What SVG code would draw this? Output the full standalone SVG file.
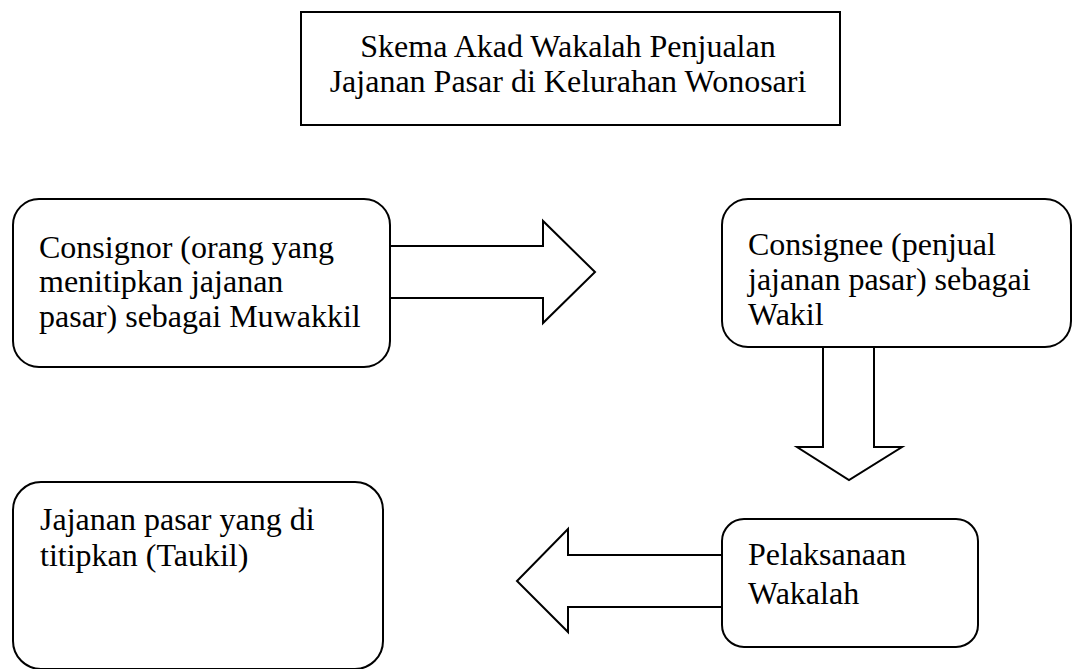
<svg xmlns="http://www.w3.org/2000/svg" width="1073" height="669" viewBox="0 0 1073 669">
<style>
.box{fill:#fff;stroke:#000;stroke-width:2}
.arr{fill:#fff;stroke:#000;stroke-width:2;stroke-linejoin:miter}
text{font-family:"Liberation Serif","Times New Roman",serif;font-size:32px;fill:#000}
</style>
<rect width="1073" height="669" fill="#fff"/>
<g id="title">
<rect class="box" x="301" y="12" width="539" height="113"/>
<text x="568" y="57" text-anchor="middle">Skema Akad Wakalah Penjualan</text>
<text x="568" y="92" text-anchor="middle">Jajanan Pasar di Kelurahan Wonosari</text>
</g>
<g id="connectors">
<polygon class="arr" points="390,246 543,246 543,221 595,272 543,323 543,298 390,298"/>
<polygon class="arr" points="823,347 823,447 797,447 849,480 902,447 874,447 874,347"/>
<polygon class="arr" points="722,555 568,555 568,529 517,581 568,632 568,607 722,607"/>
</g>
<g id="consignor">
<rect class="box" x="13" y="199" width="377" height="168" rx="26"/>
<text x="39" y="258">Consignor (orang yang</text>
<text x="39" y="292">menitipkan jajanan</text>
<text x="39" y="327">pasar) sebagai Muwakkil</text>
</g>
<g id="consignee">
<rect class="box" x="722" y="199" width="349" height="148" rx="26"/>
<text x="748" y="255">Consignee (penjual</text>
<text x="748" y="290">jajanan pasar) sebagai</text>
<text x="748" y="325">Wakil</text>
</g>
<g id="pelaksanaan">
<rect class="box" x="722" y="519" width="256" height="128" rx="22"/>
<text x="748" y="565">Pelaksanaan</text>
<text x="748" y="604">Wakalah</text>
</g>
<g id="jajanan">
<rect class="box" x="13" y="482" width="370" height="187" rx="28"/>
<text x="40" y="530">Jajanan pasar yang di</text>
<text x="40" y="566">titipkan (Taukil)</text>
</g>
</svg>
